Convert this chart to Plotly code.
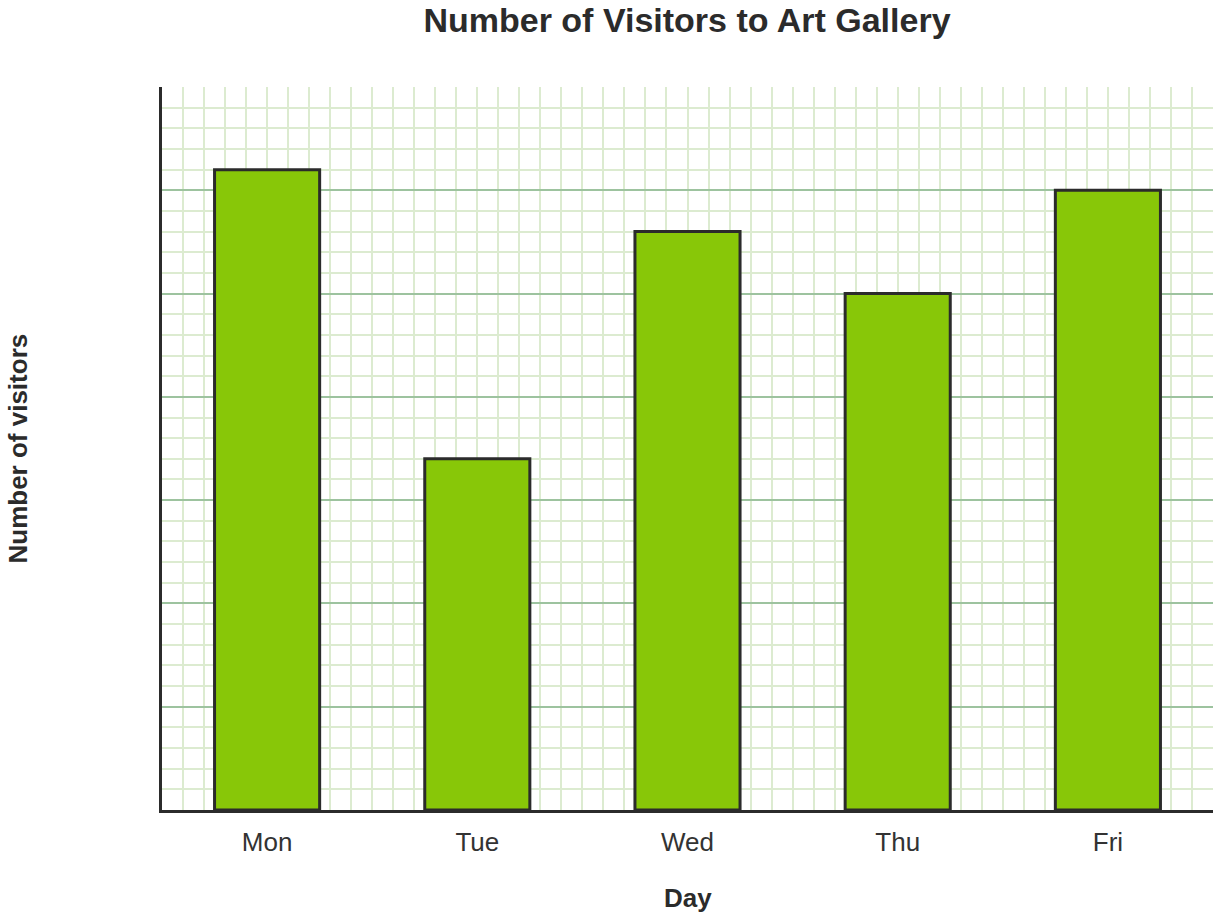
import plotly.graph_objects as go

days = ["Mon", "Tue", "Wed", "Thu", "Fri"]
visitors = [62, 34, 56, 50, 60]
positions = [0, 1, 2, 3, 4]

fig = go.Figure()
fig.add_trace(go.Bar(
    x=positions, y=visitors, width=0.5,
    marker=dict(color="#88c708", line=dict(color="#2b2b2b", width=3)),
))

FONT = "Liberation Sans, Arial, sans-serif"
W, H = 1220, 918

fig.update_layout(
    width=W, height=H,
    margin=dict(l=162, r=7, t=87, b=108),
    plot_bgcolor="white", paper_bgcolor="white",
    showlegend=False,
    font=dict(family=FONT, color="#333333"),
    title=dict(text="<b>Number of Visitors to Art Gallery</b>",
               x=687 / W, xanchor="center",
               yref="container", y=1 - 20 / H, yanchor="middle",
               font=dict(size=34, color="#2b2b2b", family=FONT)),
    xaxis=dict(
        range=[-0.5, 4.5], tickmode="array", tickvals=positions, ticktext=days,
        showgrid=False, zeroline=False,
        showline=True, linecolor="#2b2b2b", linewidth=3,
        ticks="", ticklabelstandoff=7,
        tickfont=dict(size=26, color="#333333"),
        minor=dict(showgrid=True, tick0=0, dtick=0.1, gridcolor="#dcebd0", gridwidth=2),
    ),
    yaxis=dict(
        range=[0, 70], dtick=10, showticklabels=False,
        showgrid=True, gridcolor="#9dc39f", gridwidth=2, zeroline=False,
        showline=True, linecolor="#2b2b2b", linewidth=3,
        minor=dict(showgrid=True, dtick=2, gridcolor="#dcebd0", gridwidth=2),
    ),
    annotations=[
        dict(text="<b>Day</b>", xref="paper", yref="paper", x=0.5, y=0,
             yshift=-88, xanchor="center", yanchor="middle", showarrow=False,
             font=dict(size=26, color="#2b2b2b", family=FONT)),
        dict(text="<b>Number of visitors</b>", xref="paper", yref="paper", x=0, y=0.5,
             xshift=-145, xanchor="center", yanchor="middle", textangle=-90, showarrow=False,
             font=dict(size=26, color="#2b2b2b", family=FONT)),
    ],
)

fig.write_html("out.html", config={"displayModeBar": False},
               post_script="document.body.style.margin='0';")
